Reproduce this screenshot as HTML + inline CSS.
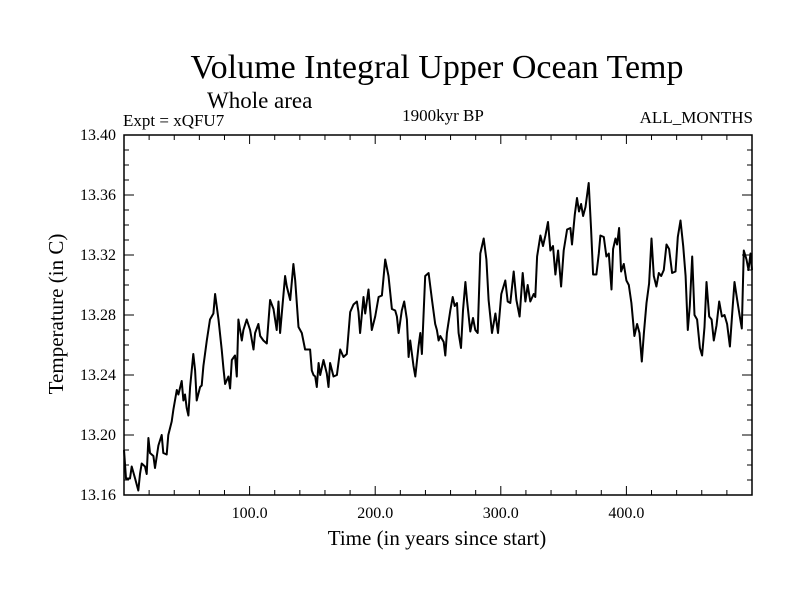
<!DOCTYPE html>
<html><head><meta charset="utf-8"><style>
html,body{margin:0;padding:0;background:#fff;}
svg text{font-family:"Liberation Serif",serif;fill:#000;}
</style></head><body>
<svg id="chart" width="800" height="600" viewBox="0 0 800 600" xmlns="http://www.w3.org/2000/svg">
<rect x="0" y="0" width="800" height="600" fill="#fff"/>
<text x="437" y="78" font-size="34" text-anchor="middle">Volume Integral Upper Ocean Temp</text>
<text x="207" y="108" font-size="23">Whole area</text>
<text x="123" y="126" font-size="17">Expt = xQFU7</text>
<text x="443" y="121" font-size="17" text-anchor="middle">1900kyr BP</text>
<text x="753" y="123" font-size="17" text-anchor="end">ALL_MONTHS</text>
<text x="437" y="545" font-size="21" text-anchor="middle">Time (in years since start)</text>
<text x="63" y="314" font-size="21" text-anchor="middle" transform="rotate(-90 63 314)">Temperature (in C)</text>
<g id="axes"></g>
<g id="series"></g>
</svg>
<script>
const years=[
0,1.6,4.8,6.1,8.8,10.1,11.4,12.7,14.1,16.7,
18.1,19.4,20.7,23.4,24.7,27.4,30.0,31.3,34.0,35.3,
38.0,39.3,42.0,43.3,45.9,47.3,48.6,49.9,51.3,52.6,
55.2,56.6,57.9,60.6,61.9,63.2,65.9,68.5,71.2,72.5,
73.8,75.2,77.8,79.2,80.5,83.1,84.5,85.8,88.4,89.8,
91.1,93.8,95.1,97.7,100.4,103.1,104.4,107.0,108.4,111.0,
113.7,116.3,119.0,121.6,123.0,124.3,125.6,128.3,129.6,132.3,
134.9,136.3,138.9,141.6,144.2,148.2,149.5,150.9,152.2,153.5,
154.9,156.2,158.8,161.5,162.8,164.1,166.8,169.5,172.1,174.8,
177.4,180.1,182.7,185.4,186.7,188.0,190.7,192.0,194.7,197.3,
200.0,202.7,205.3,208.0,210.6,213.3,215.9,217.3,218.6,221.2,
223.1,225.2,226.6,227.9,230.5,231.9,234.5,235.9,237.2,239.8,
242.5,245.2,247.8,249.1,250.5,251.8,
254.5,255.8,257.1,259.8,261.7,263.3,265.1,266.4,268.3,269.9,
271.8,273.1,275.7,277.9,279.7,281.6,283.7,286.4,288.5,290.3,
293.0,295.7,297.8,300.4,303.6,305.5,307.6,310.3,312.4,315.0,
317.4,319.6,321.4,323.5,326.2,327.5,328.9,331.5,333.6,335.5,
337.6,339.5,341.6,343.5,345.6,348.0,350.1,352.8,355.4,356.7,
358.9,360.7,362.3,363.9,365.5,367.4,370.0,371.9,373.5,376.1,
378.0,379.3,382.0,384.1,386.0,388.1,389.4,391.3,392.6,394.2,
395.8,397.9,400.0,401.9,404.0,406.4,408.5,410.4,412.3,413.9,
416.0,418.1,420.0,421.8,423.9,425.8,427.7,429.8,431.9,434.0,
436.4,439.1,440.9,443.1,445.2,447.1,448.9,450.5,452.4,454.2,
456.3,458.5,460.3,462.2,463.8,465.9,467.8,469.6,471.7,473.9,
476.0,478.1,480.2,482.4,484.2,486.1,488.2,490.3,491.9,493.5,
495.6,497.2,498.8,500
];
const temps=[
13.190,13.171,13.171,13.179,13.171,13.167,13.163,13.174,13.181,13.179,
13.174,13.198,13.188,13.186,13.178,13.193,13.200,13.188,13.187,13.200,
13.209,13.217,13.230,13.227,13.236,13.223,13.227,13.218,13.213,13.232,
13.254,13.243,13.223,13.232,13.233,13.246,13.263,13.277,13.281,13.294,
13.286,13.277,13.257,13.244,13.234,13.239,13.231,13.250,13.253,13.239,
13.277,13.263,13.270,13.277,13.270,13.257,13.268,13.274,13.266,13.263,
13.261,13.290,13.284,13.270,13.289,13.268,13.281,13.306,13.299,13.290,
13.314,13.303,13.272,13.268,13.257,13.257,13.243,13.240,13.239,13.232,
13.248,13.240,13.250,13.241,13.232,13.248,13.239,13.240,13.257,13.252,
13.254,13.282,13.287,13.289,13.282,13.268,13.292,13.281,13.297,13.270,
13.279,13.292,13.293,13.317,13.306,13.284,13.283,13.279,13.268,13.283,
13.289,13.277,13.252,13.263,13.246,13.239,13.259,13.268,13.254,13.306,
13.308,13.290,13.274,13.270,13.263,13.266,
13.262,13.253,13.268,13.283,13.292,13.286,13.288,13.268,13.258,13.283,
13.302,13.290,13.269,13.278,13.270,13.268,13.321,13.331,13.317,13.290,
13.268,13.281,13.268,13.294,13.303,13.289,13.288,13.309,13.290,13.279,
13.308,13.289,13.300,13.289,13.294,13.292,13.319,13.333,13.326,13.333,
13.342,13.323,13.326,13.307,13.323,13.299,13.323,13.337,13.338,13.327,
13.347,13.358,13.349,13.354,13.346,13.352,13.368,13.337,13.307,13.307,
13.321,13.333,13.332,13.319,13.321,13.297,13.324,13.331,13.327,13.338,
13.309,13.314,13.303,13.300,13.288,13.266,13.274,13.268,13.249,13.268,
13.288,13.301,13.331,13.306,13.299,13.308,13.306,13.310,13.327,13.324,
13.308,13.309,13.332,13.343,13.326,13.306,13.270,13.286,13.319,13.280,
13.277,13.258,13.253,13.272,13.302,13.279,13.277,13.263,13.273,13.289,
13.279,13.280,13.274,13.259,13.281,13.302,13.290,13.279,13.271,13.323,
13.317,13.310,13.321,13.310
];
const yTickLabels=["13.16","13.20","13.24","13.28","13.32","13.36","13.40"];
const xTickLabels=["100.0","200.0","300.0","400.0"];

const NS="http://www.w3.org/2000/svg";
const L=124,R=752,T=135,B=495,X0=0,X1=500,Y0=13.16,Y1=13.40;
function sx(v){return L+(v-X0)/(X1-X0)*(R-L);}
function sy(v){return B-(v-Y0)/(Y1-Y0)*(B-T);}
const axes=document.getElementById('axes');
function line(x1,y1,x2,y2,name){
  const l=document.createElementNS(NS,'line');
  l.setAttribute('x1',x1);l.setAttribute('y1',y1);l.setAttribute('x2',x2);l.setAttribute('y2',y2);
  l.setAttribute('stroke','#000');l.setAttribute('stroke-width','1');
  
  
  axes.appendChild(l);return l;
}
const frame=document.createElementNS(NS,'rect');
frame.setAttribute('x',L);frame.setAttribute('y',T);frame.setAttribute('width',R-L);frame.setAttribute('height',B-T);
frame.setAttribute('fill','none');frame.setAttribute('stroke','#000');frame.setAttribute('stroke-width','1.5');


axes.appendChild(frame);
for(let i=0;i<=24;i++){
  const v=Y0+i*0.01,y=sy(v),major=i%4===0,len=major?10:5;
  line(L,y,L+len,y,'y-tick-left');
  line(R,y,R-len,y,'y-tick-right');
}
yTickLabels.forEach(s=>{
  const t=document.createElementNS(NS,'text');
  t.setAttribute('x',L-8);t.setAttribute('y',sy(parseFloat(s))+5);
  t.setAttribute('font-size','16');t.setAttribute('text-anchor','end');
  t.textContent=s;
  
  
  axes.appendChild(t);
});
for(let v=20;v<500;v+=20){
  const x=sx(v),major=v%100===0,len=major?9:5;
  line(x,B,x,B-len,'x-tick-bottom');
  line(x,T,x,T+len,'x-tick-top');
}
xTickLabels.forEach(s=>{
  const t=document.createElementNS(NS,'text');
  t.setAttribute('x',sx(parseFloat(s)));t.setAttribute('y',B+23);
  t.setAttribute('font-size','16');t.setAttribute('text-anchor','middle');
  t.textContent=s;
  
  
  axes.appendChild(t);
});
const p=document.createElementNS(NS,'path');
let d='';
for(let i=0;i<years.length;i++){d+=(i?'L':'M')+sx(years[i]).toFixed(1)+' '+sy(temps[i]).toFixed(1);}
p.setAttribute('d',d);p.setAttribute('fill','none');p.setAttribute('stroke','#000');
p.setAttribute('stroke-width','2');p.setAttribute('stroke-linejoin','round');


document.getElementById('series').appendChild(p);
</script>
</body></html>
